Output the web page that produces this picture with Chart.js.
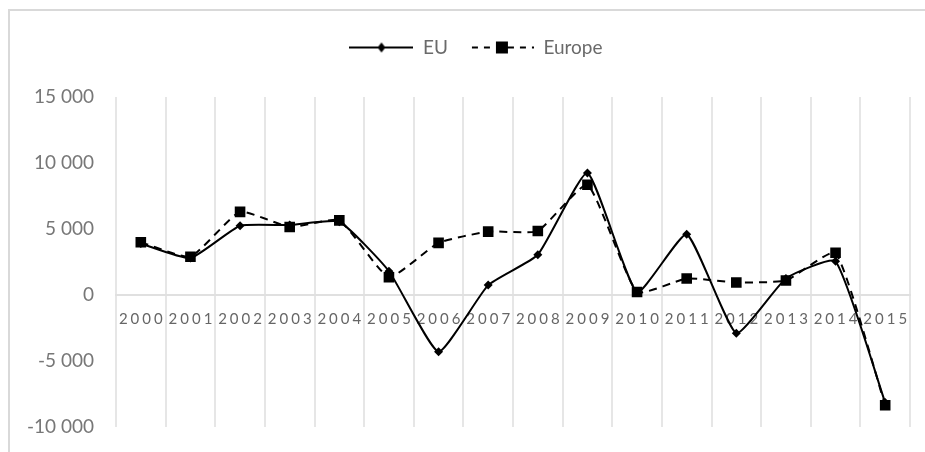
<!DOCTYPE html>
<html>
<head>
<meta charset="utf-8">
<script src="https://cdn.jsdelivr.net/npm/chart.js@4/dist/chart.umd.min.js"></script>
<style>
  html, body { margin: 0; padding: 0; background: #fff; }
  #wrap { width: 925px; height: 452px; position: relative; }
</style>
</head>
<body>
<div id="wrap"><canvas id="chart"></canvas></div>
<script>
// dữ liệu
const years = ['2000', '2001', '2002', '2003', '2004', '2005', '2006', '2007',
               '2008', '2009', '2010', '2011', '2012', '2013', '2014', '2015'];
const euValues = [3900, 2800, 5250, 5300, 5550, 1800, -4300, 750,
                  3050, 9250, 200, 4600, -2900, 1250, 2550, -8150];
const europeValues = [4000, 2900, 6300, 5150, 5650, 1350, 3950, 4800,
                      4850, 8350, 230, 1250, 950, 1100, 3200, -8350];
const yTicks = [-10000, -5000, 0, 5000, 10000, 15000];

const gridColor = '#e6e6e6';
const textColor = '#666';

// định dạng số kiểu "15 000"
function fmt(v) {
    const s = String(Math.abs(v)).replace(/\B(?=(\d{3})+(?!\d))/g, ' ');
    return (v < 0 ? '-' : '') + s;
}

// hình mẫu cho chú giải: đường + điểm
function legendIcon(dashed, marker) {
    const c = document.createElement('canvas');
    c.width = 64; c.height = 14;
    const g = c.getContext('2d');
    g.strokeStyle = '#000';
    g.lineWidth = 2;
    if (dashed) g.setLineDash([6, 6]);
    g.beginPath();
    g.moveTo(dashed ? 2 : 0, 7);
    g.lineTo(64, 7);
    g.stroke();
    g.fillStyle = '#000';
    if (marker === 'square') {
        g.fillRect(26, 1, 12, 12);
    } else {
        g.beginPath();
        g.moveTo(32, 2); g.lineTo(36, 7); g.lineTo(32, 12); g.lineTo(28, 7);
        g.closePath();
        g.fill();
    }
    return c;
}
const icons = [legendIcon(false, 'diamond'), legendIcon(true, 'square')];

// khung viền ngoài, dịch chú giải, giãn khoảng dưới chú giải
const framePlugin = {
    id: 'frame',
    beforeInit(chart) {
        const lg = chart.legend;
        const fit = lg.fit;
        lg.fit = function () {
            fit.bind(lg)();
            this.height += 30;
        };
        const draw = lg.draw;
        lg.draw = function () {
            chart.ctx.save();
            chart.ctx.translate(16, 0);
            draw.bind(lg)();
            chart.ctx.restore();
        };
    },
    beforeDraw(chart) {
        const c = chart.ctx;
        c.save();
        c.fillStyle = '#fff';
        c.fillRect(0, 0, chart.width, chart.height);
        c.strokeStyle = '#d9d9d9';
        c.lineWidth = 2;
        c.strokeRect(9, 10, chart.width + 20, chart.height + 20);
        c.restore();
        // giãn chữ nhãn trục x
        const sx = chart.scales.x;
        if (sx && !sx._spaced) {
            const orig = sx.drawLabels.bind(sx);
            sx.drawLabels = function (area) {
                chart.ctx.save();
                chart.ctx.letterSpacing = '3px';
                chart.ctx.translate(1.5, 0);
                orig(area);
                chart.ctx.restore();
            };
            sx._spaced = true;
        }
    }
};

new Chart(document.getElementById('chart'), {
    type: 'line',
    data: {
        labels: years,
        datasets: [{
            label: 'EU',
            data: euValues,
            borderColor: '#000',
            backgroundColor: '#000',
            borderWidth: 2,
            pointStyle: 'rectRot',
            pointRadius: 4.5,
            pointBorderWidth: 0,
            tension: 0.15
        }, {
            label: 'Europe',
            data: europeValues,
            borderColor: '#000',
            backgroundColor: '#000',
            borderWidth: 2,
            borderDash: [8, 6],
            pointStyle: 'rect',
            pointRadius: 7.5,
            pointBorderWidth: 0,
            tension: 0.15
        }]
    },
    options: {
        responsive: true,
        maintainAspectRatio: false,
        animation: false,
        layout: { padding: { top: 16, left: 10, right: 15, bottom: 25 } },
        plugins: {
            tooltip: { enabled: false },
            legend: {
                position: 'top',
                labels: {
                    usePointStyle: true,
                    pointStyleWidth: 64,
                    padding: 22,
                    color: '#6a6a6a',
                    font: { family: 'Lato', size: 19 },
                    generateLabels(chart) {
                        return chart.data.datasets.map((ds, i) => ({
                            text: ds.label,
                            pointStyle: icons[i],
                            fillStyle: '#000',
                            strokeStyle: '#000',
                            lineWidth: 0,
                            fontColor: '#6a6a6a',
                            hidden: false,
                            datasetIndex: i
                        }));
                    }
                }
            }
        },
        scales: {
            x: {
                position: { y: 0 },
                offset: true,
                afterFit: s => { s.height = 1; },
                grid: { display: true, offset: true, color: gridColor, lineWidth: 2, drawTicks: false },
                border: { display: true, color: '#e0e0e0', width: 2 },
                ticks: {
                    autoSkip: false,
                    maxRotation: 0,
                    padding: 15,
                    color: textColor,
                    font: { family: 'Lato', size: 15 }
                }
            },
            y: {
                min: -10000,
                max: 15000,
                afterFit: s => { s.width = 106; },
                afterBuildTicks: s => { s.ticks = yTicks.map(v => ({ value: v })); },
                grid: { display: false, drawTicks: true, tickLength: 22 },
                border: { display: false },
                ticks: {
                    padding: 0,
                    color: '#777',
                    font: { family: 'Lato', size: 19 },
                    callback: v => fmt(v)
                }
            }
        }
    },
    plugins: [framePlugin]
});
</script>
</body>
</html>
